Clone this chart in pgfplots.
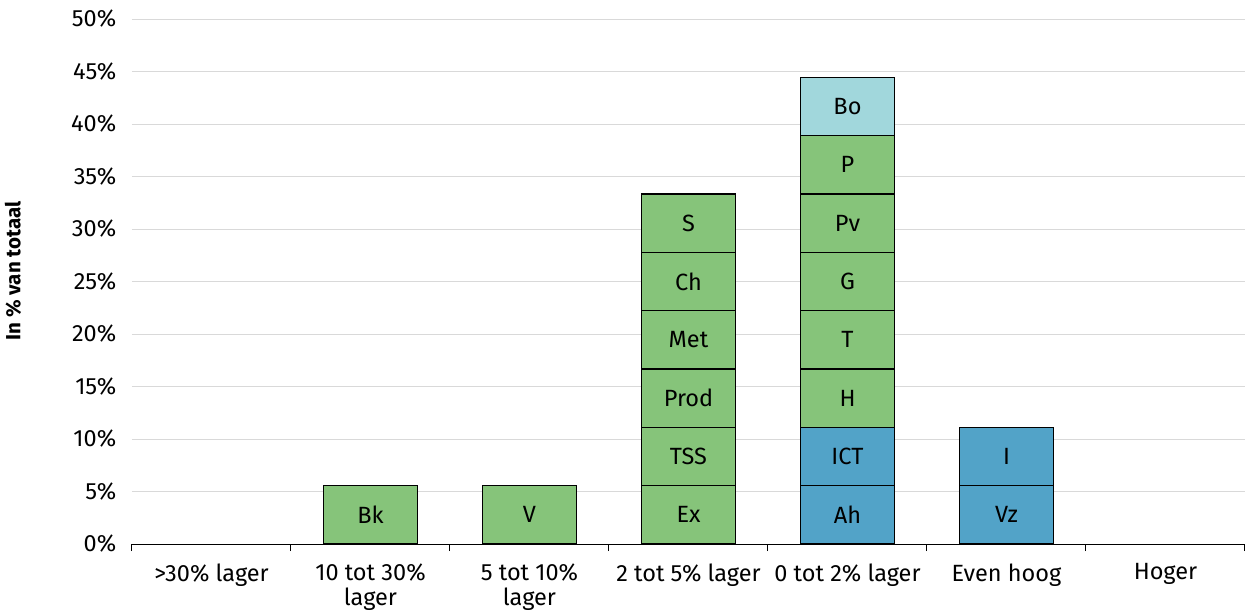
\documentclass[border=0pt]{standalone}
\usepackage{pgfplots}
\pgfplotsset{compat=1.18}
\usepackage{fontspec}
\setmainfont{Fira Sans}

\definecolor{cgreen}{RGB}{134,196,122}
\definecolor{cblue}{RGB}{82,163,200}
\definecolor{clight}{RGB}{161,215,220}
\definecolor{cgrid}{RGB}{217,217,217}

\pgfplotstableread{
x y lab
1 2.778 Bk
2 2.778 V
3 2.778 Ex
3 8.333 TSS
3 13.889 Prod
3 19.444 Met
3 25.0 Ch
3 30.556 S
4 2.778 Ah
4 8.333 ICT
4 13.889 H
4 19.444 T
4 25.0 G
4 30.556 Pv
4 36.111 P
4 41.667 Bo
5 2.778 Vz
5 8.333 I
}\labels

\begin{document}
\begin{tikzpicture}
\begin{axis}[
  at={(0,0)}, anchor=south west,
  width=1113pt, height=525pt, scale only axis,
  ybar stacked, bar width=0.59,
  xmin=-0.5, xmax=6.5, ymin=0, ymax=50,
  axis x line*=bottom, axis y line*=left,
  y axis line style={draw=none},
  x axis line style={black, line width=1pt},
  ytick={0,5,...,50},
  yticklabel={\pgfmathprintnumber{\tick}\%},
  ytick style={draw=none},
  ymajorgrids, grid style={cgrid, line width=1pt},
  xtick={0,...,6},
  xticklabels={>30\% lager,{10 tot 30\%\\lager},{5 tot 10\%\\lager},2 tot 5\% lager,0 tot 2\% lager,Even hoog,Hoger},
  major x tick style={draw=none},
  minor xtick={-0.5,0.5,...,6.5},
  minor x tick style={black, line width=1pt},
  minor tick length=7pt,
  tick align=outside,
  /pgf/number format/assume math mode=true,
  tick label style={font=\fontsize{23.5}{25}\selectfont, black},
  xticklabel style={align=center, yshift=-12pt},
  yticklabel style={xshift=-8pt},
  ylabel={In \% van totaal},
  ylabel style={at={(axis description cs:-0.107,0.52)}, anchor=center, font=\bfseries\fontsize{20.5}{22}\selectfont},
  every axis plot/.append style={draw=black, line width=1.2pt},
]
% level 1
\addplot[fill=cgreen] coordinates {(0,0)(1,5.556)(2,5.556)(3,5.556)(4,0)(5,0)(6,0)};
\addplot[fill=cblue] coordinates {(0,0)(1,0)(2,0)(3,0)(4,5.556)(5,5.556)(6,0)};
% level 2
\addplot[fill=cgreen] coordinates {(0,0)(1,0)(2,0)(3,5.556)(4,0)(5,0)(6,0)};
\addplot[fill=cblue] coordinates {(0,0)(1,0)(2,0)(3,0)(4,5.556)(5,5.556)(6,0)};
% levels 3-6
\addplot[fill=cgreen] coordinates {(0,0)(1,0)(2,0)(3,5.556)(4,5.556)(5,0)(6,0)};
\addplot[fill=cgreen] coordinates {(0,0)(1,0)(2,0)(3,5.556)(4,5.556)(5,0)(6,0)};
\addplot[fill=cgreen] coordinates {(0,0)(1,0)(2,0)(3,5.556)(4,5.556)(5,0)(6,0)};
\addplot[fill=cgreen] coordinates {(0,0)(1,0)(2,0)(3,5.556)(4,5.556)(5,0)(6,0)};
% level 7-8
\addplot[fill=cgreen] coordinates {(0,0)(1,0)(2,0)(3,0)(4,5.556)(5,0)(6,0)};
\addplot[fill=clight] coordinates {(0,0)(1,0)(2,0)(3,0)(4,5.556)(5,0)(6,0)};
\end{axis}
% segment labels, same axis geometry
\begin{axis}[
  at={(0,0)}, anchor=south west,
  width=1113pt, height=525pt, scale only axis,
  xmin=-0.5, xmax=6.5, ymin=0, ymax=50,
  hide axis,
]
\addplot[draw=none, mark=none,
  nodes near coords, point meta=explicit symbolic,
  nodes near coords style={anchor=center, font=\fontsize{23.5}{25}\selectfont, black}]
  table[meta=lab] {\labels};
\end{axis}
\pgfresetboundingbox
\path (-132pt,-67pt) rectangle (1113pt,544pt);
\end{tikzpicture}
\end{document}
